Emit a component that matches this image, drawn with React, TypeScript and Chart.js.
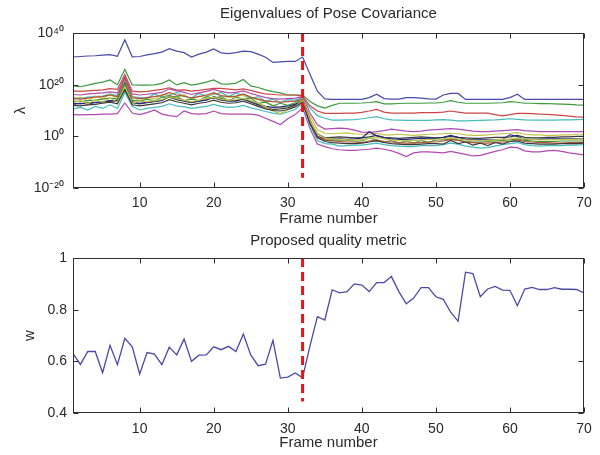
import React, { useEffect, useRef } from 'react';
import { Chart, registerables } from 'chart.js';

Chart.register(...registerables);

// ---------------- data ----------------
const frames = [
  1, 2, 3, 4, 5, 6, 7, 8, 9, 10,
  11, 12, 13, 14, 15, 16, 17, 18, 19, 20,
  21, 22, 23, 24, 25, 26, 27, 28, 29, 30,
  31, 32, 33, 34, 35, 36, 37, 38, 39, 40,
  41, 42, 43, 44, 45, 46, 47, 48, 49, 50,
  51, 52, 53, 54, 55, 56, 57, 58, 59, 60,
  61, 62, 63, 64, 65, 66, 67, 68, 69, 70,
];
const xTicks = [10, 20, 30, 40, 50, 60, 70];
const topYTicks = [1e-20, 1, 1e20, 1e40];
const topYLabels = ['10⁻²⁰', '10⁰', '10²⁰', '10⁴⁰'];
const bottomYTicks = [0.4, 0.6, 0.8, 1];
const bottomYLabels = ['0.4', '0.6', '0.8', '1'];
const changeFrame = 32;
const topDashSpan = [1e40, 1e-16];
const bottomDashSpan = [1, 0.445];

// eigenvalues, stored as log10(lambda)
const eig01 = [30.7, 30.9, 31.1, 31.2, 31.4, 31.6, 31.0, 37.4, 30.8, 30.9, 31.5, 32.0, 32.6, 33.9, 33.0, 32.4, 30.7, 31.8, 32.6, 33.8, 32.3, 32.0, 32.4, 33.0, 32.8, 31.8, 30.6, 28.6, 28.8, 29.0, 29.0, 30.7, 24.0, 17.5, 14.5, 14.3, 14.3, 14.3, 14.3, 14.3, 15.0, 16.3, 14.6, 14.4, 14.4, 15.0, 15.0, 14.8, 14.5, 14.4, 16.0, 16.6, 16.6, 14.3, 14.3, 14.3, 14.3, 14.3, 14.3, 15.0, 16.3, 14.3, 14.3, 14.3, 14.3, 14.3, 14.3, 14.3, 14.3, 14.3];
const eig02 = [19.5, 19.2, 19.8, 20.5, 21.0, 21.8, 20.0, 25.9, 19.9, 19.8, 19.8, 19.9, 20.5, 21.8, 19.9, 20.8, 19.8, 20.3, 21.0, 21.8, 20.3, 20.2, 20.6, 22.0, 19.5, 18.9, 18.0, 17.3, 16.8, 16.0, 16.0, 16.0, 13.5, 11.8, 10.9, 12.0, 12.8, 12.8, 12.8, 12.9, 13.1, 13.4, 12.6, 12.6, 12.7, 12.8, 12.8, 12.8, 12.9, 12.9, 13.2, 13.8, 13.2, 12.8, 12.8, 12.8, 12.8, 12.9, 13.0, 13.4, 13.2, 12.8, 12.8, 12.7, 12.7, 12.6, 12.5, 12.4, 12.2, 12.1];
const eig03 = [17.6, 17.4, 17.6, 17.8, 18.0, 18.5, 18.2, 24.0, 17.5, 17.2, 17.4, 17.8, 18.2, 18.8, 17.9, 18.0, 17.5, 17.8, 18.2, 18.6, 18.6, 18.3, 18.0, 18.4, 17.8, 17.0, 16.4, 16.2, 16.0, 16.0, 16.0, 15.6, 11.8, 9.8, 8.9, 8.9, 8.9, 9.0, 9.0, 9.3, 9.8, 10.4, 9.4, 9.0, 9.0, 9.0, 9.0, 9.2, 9.2, 9.2, 9.4, 9.8, 9.4, 9.0, 9.0, 9.0, 9.0, 8.4, 7.9, 8.4, 8.9, 8.9, 8.8, 8.6, 8.5, 8.3, 8.1, 7.8, 7.5, 7.4];
const eig04 = [15.0, 14.6, 15.2, 15.4, 15.6, 16.4, 15.8, 22.0, 15.4, 15.0, 14.6, 16.4, 15.2, 16.0, 17.0, 15.4, 14.8, 16.6, 15.6, 16.2, 17.0, 15.4, 16.8, 15.8, 14.6, 15.4, 13.6, 14.4, 13.2, 14.2, 14.0, 15.0, 11.0, 8.0, 7.0, 6.3, 6.3, 6.4, 6.5, 6.8, 7.2, 7.6, 6.8, 6.4, 6.3, 6.2, 6.2, 6.2, 6.2, 6.4, 6.5, 6.3, 6.0, 6.0, 6.1, 6.2, 6.3, 6.4, 6.6, 6.8, 6.6, 6.4, 6.3, 6.3, 6.3, 6.3, 6.4, 6.4, 6.5, 6.6];
const eig05 = [16.2, 16.0, 16.4, 16.6, 16.8, 17.2, 16.8, 23.2, 16.4, 16.0, 16.3, 16.6, 17.0, 18.4, 17.6, 17.0, 16.2, 16.8, 17.4, 18.2, 17.4, 16.8, 17.0, 17.6, 16.6, 15.8, 15.0, 14.6, 14.4, 14.6, 14.8, 15.4, 9.0, 4.5, 2.8, 3.0, 3.2, 3.0, 2.4, 1.6, 1.5, 1.8, 2.2, 2.8, 2.4, 2.0, 1.8, 2.0, 2.4, 2.6, 2.8, 3.0, 2.8, 2.4, 2.0, 1.8, 1.8, 2.0, 2.2, 2.4, 2.6, 2.2, 2.0, 1.8, 1.8, 1.8, 1.8, 1.8, 1.8, 1.8];
const eig06 = [14.4, 15.2, 13.8, 15.6, 14.6, 16.2, 14.6, 21.0, 15.6, 13.8, 15.2, 14.4, 16.2, 16.0, 15.0, 16.2, 14.2, 15.6, 15.0, 17.0, 15.6, 15.2, 15.4, 16.0, 15.0, 14.2, 13.2, 12.0, 11.0, 11.6, 12.8, 14.6, 8.0, 2.5, 1.2, 1.0, 1.2, 1.3, 1.0, 0.8, 0.8, 1.2, 0.6, 0.6, 0.8, 0.6, 0.4, 0.6, 0.8, 0.8, 1.0, 1.2, 1.0, 0.6, 0.4, 0.4, 0.6, 0.8, 1.0, 1.2, 1.4, 0.8, 0.6, 0.6, 0.4, 0.4, 0.6, 0.6, 0.8, 0.8];
const eig07 = [12.8, 12.6, 13.0, 13.2, 13.4, 13.8, 13.4, 18.6, 13.0, 12.6, 13.0, 13.4, 14.0, 15.2, 14.2, 13.6, 13.0, 13.6, 14.2, 15.0, 14.0, 13.6, 13.8, 14.4, 13.2, 12.2, 11.2, 10.4, 10.6, 11.0, 12.0, 13.4, 6.0, 1.0, -0.6, -0.4, -0.2, -0.4, -0.6, -0.6, -0.2, 0.4, -0.4, -0.6, -0.8, -0.6, -0.4, -0.2, -0.4, -0.6, -0.4, 0.0, -0.4, -0.6, -0.8, -0.8, -0.6, -0.4, -0.4, -0.2, 0.4, -0.4, -0.6, -0.6, -0.4, -0.4, -0.2, -0.2, 0.0, 0.0];
const eig08 = [12.4, 12.8, 12.6, 13.0, 13.2, 13.6, 14.0, 20.5, 13.4, 12.8, 13.2, 13.6, 13.8, 15.6, 14.6, 13.8, 13.2, 13.6, 14.0, 15.4, 14.6, 13.8, 13.6, 14.6, 13.6, 12.6, 11.6, 11.2, 11.4, 11.8, 12.4, 13.6, 5.0, 0.0, -1.0, -1.0, -1.0, -1.2, -1.0, -0.6, 1.8, 0.2, -0.6, -1.0, -1.2, -1.2, -1.0, -0.8, -0.8, -0.8, -0.4, 0.4, -0.4, -1.2, -1.4, -1.4, -1.4, -1.4, -1.2, 0.6, 0.0, -1.2, -1.2, -1.2, -1.0, -1.0, -1.0, -1.0, -1.0, -1.0];
const eig09 = [13.6, 13.4, 13.8, 14.0, 14.4, 14.8, 14.4, 20.0, 14.0, 13.6, 14.4, 13.6, 15.2, 15.0, 15.6, 13.8, 14.4, 13.8, 15.4, 14.8, 15.4, 13.8, 15.2, 14.4, 14.8, 12.8, 13.2, 11.8, 12.8, 12.0, 13.0, 14.0, 5.5, -0.5, -1.6, -1.6, -1.4, -1.6, -1.8, -1.8, -0.6, -1.4, -2.4, -1.6, -2.6, -1.8, -2.6, -1.6, -2.4, -1.4, -1.4, -1.0, -1.4, -2.0, -2.2, -2.2, -2.0, -1.8, -1.6, -1.4, -1.0, -1.6, -1.8, -2.0, -2.0, -2.0, -1.8, -1.8, -1.8, -1.8];
const eig10 = [14.6, 14.4, 14.8, 15.2, 15.4, 16.0, 15.4, 22.5, 15.0, 14.6, 15.0, 15.4, 15.8, 17.0, 16.0, 15.6, 14.8, 15.4, 16.0, 16.8, 15.8, 15.4, 15.6, 16.4, 15.2, 14.4, 13.6, 13.4, 13.2, 13.4, 13.6, 14.4, 6.5, 0.0, -1.4, -1.8, -2.0, -2.2, -2.2, -2.4, -1.8, -1.4, -2.0, -2.2, -2.4, -2.6, -2.6, -2.4, -2.2, -2.2, -1.8, -1.2, -1.6, -2.2, -2.4, -2.6, -2.6, -2.4, -2.2, -2.0, -1.4, -2.0, -2.2, -2.4, -2.4, -2.6, -2.6, -2.4, -2.4, -2.4];
const eig11 = [10.6, 11.2, 10.2, 11.6, 10.8, 12.2, 10.8, 17.0, 11.6, 10.2, 10.8, 11.2, 11.6, 12.6, 11.8, 11.4, 10.8, 11.2, 11.6, 12.4, 11.6, 11.2, 11.4, 12.0, 11.0, 10.4, 9.6, 9.0, 8.6, 9.4, 10.4, 12.8, 4.5, -1.5, -2.8, -3.0, -3.8, -3.6, -3.4, -3.4, -3.0, -2.6, -3.2, -3.6, -3.8, -4.0, -4.0, -3.6, -3.6, -3.6, -3.2, -2.6, -3.0, -3.8, -4.2, -4.6, -4.4, -3.8, -3.2, -2.8, -2.4, -3.2, -3.6, -3.8, -3.6, -3.6, -3.6, -3.4, -3.4, -3.2];
const eig12 = [8.4, 8.3, 8.4, 8.4, 8.6, 8.6, 8.8, 12.9, 9.0, 8.4, 9.2, 10.2, 8.6, 8.0, 7.6, 9.8, 8.8, 8.6, 8.8, 9.8, 8.8, 8.6, 8.6, 8.6, 8.6, 8.2, 7.0, 5.8, 4.6, 6.8, 8.4, 11.0, 3.0, -3.0, -4.0, -4.8, -5.2, -5.4, -5.4, -5.2, -5.0, -4.6, -5.0, -5.6, -6.6, -7.8, -6.4, -6.0, -6.0, -6.2, -6.4, -5.8, -6.4, -7.0, -7.6, -7.4, -6.6, -5.8, -5.2, -4.2, -4.4, -5.6, -6.0, -6.0, -5.6, -5.4, -5.8, -6.4, -6.8, -7.2];
const eig13 = [13.0, 13.8, 12.6, 14.2, 13.2, 14.8, 13.2, 19.2, 12.8, 13.6, 13.4, 13.8, 14.2, 15.4, 14.6, 14.0, 13.4, 14.0, 14.6, 15.2, 14.4, 14.0, 14.2, 14.8, 13.8, 12.8, 11.4, 9.8, 8.8, 10.2, 11.6, 13.8, 6.0, 1.0, -0.8, -1.0, -1.2, -1.4, -1.4, -1.2, -0.8, -0.4, -1.0, -1.4, -1.6, -1.8, -1.6, -1.4, -1.2, -1.2, -1.0, -0.6, -1.0, -1.4, -1.6, -1.8, -1.6, -1.4, -1.2, -1.0, -0.6, -1.0, -1.2, -1.4, -1.4, -1.4, -1.2, -1.2, -1.2, -1.0];
const eig14 = [12.0, 11.8, 12.2, 12.4, 12.8, 13.2, 12.6, 18.0, 12.2, 11.8, 12.2, 12.6, 13.0, 14.2, 13.4, 12.8, 12.2, 12.8, 13.2, 14.0, 13.2, 12.8, 13.0, 13.6, 12.6, 11.6, 10.6, 10.0, 9.8, 10.4, 11.4, 13.2, 5.0, -0.5, -2.0, -2.4, -2.6, -2.8, -2.8, -2.6, -2.2, -1.8, -2.4, -2.8, -3.0, -3.2, -3.2, -3.0, -2.8, -2.8, -3.0, -1.6, -2.8, -2.2, -3.4, -2.6, -3.6, -2.4, -3.0, -2.0, -1.8, -2.6, -2.8, -3.0, -3.0, -3.0, -2.8, -2.8, -2.8, -2.6];

const eigSeries = [eig01, eig02, eig03, eig04, eig05, eig06, eig07, eig08, eig09, eig10, eig11, eig12, eig13, eig14];
const eigColors = [
  '#4a4aa8', '#3f9a3f', '#cc4646', '#46bcbc', '#b04ab0', '#c4c44a', '#3a3a3a',
  '#24248a', '#3f9a3f', '#b4503c', '#46bcbc', '#b04ab0', '#c4c44a', '#3a3a3a',
];

// quality metric w
const wValues = [
  0.63, 0.588, 0.638, 0.638, 0.556, 0.662, 0.587, 0.689, 0.656, 0.551,
  0.634, 0.628, 0.587, 0.655, 0.625, 0.686, 0.6, 0.624, 0.625, 0.656,
  0.645, 0.658, 0.638, 0.706, 0.625, 0.583, 0.589, 0.681, 0.535, 0.539,
  0.555, 0.537, 0.66, 0.773, 0.76, 0.877, 0.865, 0.87, 0.9, 0.895,
  0.87, 0.905, 0.905, 0.928, 0.87, 0.823, 0.845, 0.885, 0.885, 0.85,
  0.84, 0.79, 0.755, 0.945, 0.94, 0.85, 0.88, 0.89, 0.876, 0.875,
  0.815, 0.88, 0.886, 0.878, 0.878, 0.885, 0.879, 0.879, 0.878, 0.865,
];

// ---------------- styling ----------------
const FONT = '"Liberation Sans", Arial, Helvetica, sans-serif';
const TEXT = '#2a2a2a';

const matlabAxes = {
  id: 'matlabAxes',
  afterDraw(chart: any, _args: any, opts: any) {
    const { ctx, chartArea: a, scales } = chart;
    ctx.save();
    ctx.strokeStyle = '#2e2e2e';
    ctx.lineWidth = 1;
    const l = Math.round(a.left) + 0.5;
    const t = Math.round(a.top) + 0.5;
    const r = Math.round(a.right) - 0.5;
    const b = Math.round(a.bottom) - 0.5;
    ctx.strokeRect(l, t, r - l, b - t);
    const L = 5;
    ctx.beginPath();
    scales.x.ticks.forEach((tk: any) => {
      const px = Math.round(scales.x.getPixelForValue(tk.value)) + 0.5;
      ctx.moveTo(px, b); ctx.lineTo(px, b - L);
      ctx.moveTo(px, t); ctx.lineTo(px, t + L);
    });
    scales.y.ticks.forEach((tk: any) => {
      const py = Math.round(scales.y.getPixelForValue(tk.value)) + 0.5;
      ctx.moveTo(l, py); ctx.lineTo(l + L, py);
      ctx.moveTo(r, py); ctx.lineTo(r - L, py);
    });
    ctx.stroke();
    if (opts && opts.text) {
      ctx.fillStyle = TEXT;
      ctx.font = `15px ${FONT}`;
      ctx.textAlign = 'center';
      ctx.textBaseline = 'middle';
      ctx.fillText(opts.text, (a.left + a.right) / 2, opts.y);
    }
    ctx.restore();
  },
};

function xScale(tickPad: number, titlePadBottom: number, axisHeight: number) {
  return {
    type: 'linear',
    min: 1,
    max: 70,
    afterBuildTicks: (s: any) => { s.ticks = xTicks.map((v) => ({ value: v })); },
    afterFit: (s: any) => { s.height = axisHeight; },
    grid: { display: false, drawTicks: false },
    border: { display: false },
    ticks: {
      autoSkip: false, maxRotation: 0, padding: tickPad, color: TEXT,
      font: { family: FONT, size: 14 },
      callback: (v: any) => String(v),
    },
    title: {
      display: true, text: 'Frame number', color: TEXT,
      font: { family: FONT, size: 15 },
      padding: { top: 0, bottom: titlePadBottom },
    },
  };
}

export default function App() {
  const topRef = useRef<HTMLCanvasElement>(null);
  const botRef = useRef<HTMLCanvasElement>(null);

  useEffect(() => {
    const topDatasets: any[] = [
      {
        data: topDashSpan.map((v) => ({ x: changeFrame, y: v })),
        borderColor: '#e8141c', borderWidth: 3, borderDash: [9, 5], order: -100,
      },
      ...eigSeries.map((s, i) => ({
        data: frames.map((f, j) => ({ x: f, y: Math.pow(10, s[j]) })),
        borderColor: eigColors[i], borderWidth: 1.2, order: -i,
      })),
    ];

    const top = new Chart(topRef.current as HTMLCanvasElement, {
      type: 'line',
      data: { datasets: topDatasets },
      plugins: [matlabAxes],
      options: {
        animation: false, responsive: false, devicePixelRatio: 1,
        layout: { padding: { top: 33, right: 16, left: 0, bottom: 0 } },
        elements: { point: { radius: 0 }, line: { tension: 0, fill: false } },
        plugins: {
          legend: { display: false }, tooltip: { enabled: false },
          matlabAxes: { text: 'Eigenvalues of Pose Covariance', y: 14 },
        } as any,
        scales: {
          x: xScale(7, 0, 40) as any,
          y: {
            type: 'logarithmic', min: 1e-20, max: 1e40,
            afterBuildTicks: (s: any) => { s.ticks = topYTicks.map((v) => ({ value: v })); },
            afterFit: (s: any) => { s.width = 73; },
            grid: { display: false, drawTicks: false }, border: { display: false },
            ticks: {
              autoSkip: false, padding: 9, color: TEXT, font: { family: FONT, size: 14 },
              callback: (v: any) => {
                const i = topYTicks.findIndex((t) => Math.abs(Math.log10(t) - Math.log10(v)) < 1e-6);
                return i >= 0 ? topYLabels[i] : '';
              },
            },
            title: {
              display: true, text: 'λ', color: TEXT,
              font: { family: FONT, size: 15 }, padding: { top: 12, bottom: 0 },
            },
          } as any,
        },
      },
    });

    const bot = new Chart(botRef.current as HTMLCanvasElement, {
      type: 'line',
      data: {
        datasets: [
          {
            data: bottomDashSpan.map((v) => ({ x: changeFrame, y: v })),
            borderColor: '#e8141c', borderWidth: 3, borderDash: [9, 5], order: -100,
          },
          {
            data: frames.map((f, j) => ({ x: f, y: wValues[j] })),
            borderColor: '#4a4aa8', borderWidth: 1.3, order: 0,
          },
        ],
      },
      plugins: [matlabAxes],
      options: {
        animation: false, responsive: false, devicePixelRatio: 1,
        layout: { padding: { top: 30, right: 16, left: 0, bottom: 0 } },
        elements: { point: { radius: 0 }, line: { tension: 0, fill: false } },
        plugins: {
          legend: { display: false }, tooltip: { enabled: false },
          matlabAxes: { text: 'Proposed quality metric', y: 13 },
        } as any,
        scales: {
          x: xScale(8, 3, 42) as any,
          y: {
            type: 'linear', min: 0.4, max: 1,
            afterBuildTicks: (s: any) => { s.ticks = bottomYTicks.map((v) => ({ value: v })); },
            afterFit: (s: any) => { s.width = 73; },
            grid: { display: false, drawTicks: false }, border: { display: false },
            ticks: {
              autoSkip: false, padding: 6, color: TEXT, font: { family: FONT, size: 14 },
              callback: (v: any) => {
                const i = bottomYTicks.findIndex((t) => Math.abs(t - v) < 1e-9);
                return i >= 0 ? bottomYLabels[i] : '';
              },
            },
            title: {
              display: true, text: 'w', color: TEXT,
              font: { family: FONT, size: 15 }, padding: { top: 21, bottom: 0 },
            },
          } as any,
        },
      },
    });

    return () => { top.destroy(); bot.destroy(); };
  }, []);

  return (
    <div style={{ position: 'absolute', left: 0, top: 0, width: 600, height: 455, background: '#fff' }}>
      <canvas ref={topRef} width={600} height={228} style={{ position: 'absolute', left: 0, top: 0, display: 'block' }} />
      <canvas ref={botRef} width={600} height={227} style={{ position: 'absolute', left: 0, top: 228, display: 'block' }} />
    </div>
  );
}
